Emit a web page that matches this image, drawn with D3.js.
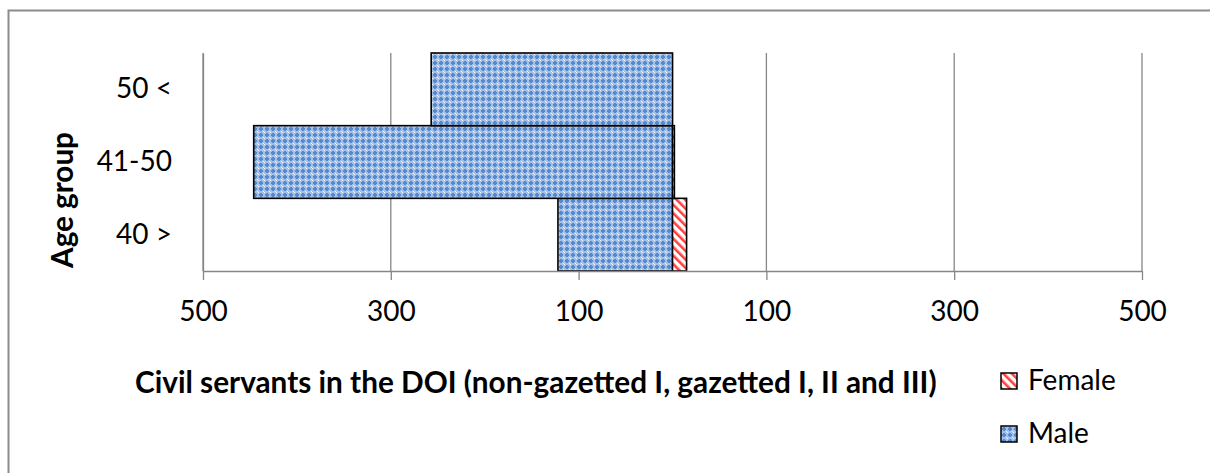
<!DOCTYPE html>
<html>
<head>
<meta charset="utf-8">
<script src="https://cdn.jsdelivr.net/npm/d3@7"></script>
<style>
  body { margin: 0; background: #fff; }
  text { font-family: Lato, "Open Sans", sans-serif; fill: #000; }
</style>
</head>
<body>
<svg id="chart" width="1210" height="473"></svg>
<script>
var ageGroups   = ['40 >', '41-50', '50 <'];
var maleCount   = [122, 446, 257];
var femaleCount = [15, 2, 0];
var tickValues  = [-500, -300, -100, 100, 300, 500];
var seriesNames = ['Female', 'Male'];
var xTitle = 'Civil servants in the DOI (non-gazetted I, gazetted I, II and III)';
var yTitle = 'Age group';

var svg = d3.select('#chart');
var gridColor = '#868686';

var x = d3.scaleLinear().domain([-500, 500]).range([203, 1142]);
var y = d3.scaleBand().domain(ageGroups.slice().reverse()).range([53, 271]).padding(0);

// patterns, roughly like the excel fills
var defs = svg.append('defs');
var pm = defs.append('pattern').attr('id', 'maleFill')
	.attr('width', 6).attr('height', 6).attr('patternUnits', 'userSpaceOnUse');
pm.append('rect').attr('width', 6).attr('height', 6).attr('fill', '#a3c0e9');
pm.append('rect').attr('x', 2).attr('y', 1).attr('width', 2).attr('height', 4).attr('fill', '#5688cc');
pm.append('rect').attr('x', 1).attr('y', 2).attr('width', 4).attr('height', 2).attr('fill', '#5688cc');
pm.append('rect').attr('x', 5).attr('y', 5).attr('width', 2).attr('height', 2).attr('fill', '#f4f8fd');
pm.append('rect').attr('x', 0).attr('y', 0).attr('width', 1).attr('height', 1).attr('fill', '#f4f8fd');

var pf = defs.append('pattern').attr('id', 'femaleFill')
	.attr('width', 6).attr('height', 6).attr('patternUnits', 'userSpaceOnUse')
	.attr('patternTransform', 'rotate(-45)');
pf.append('rect').attr('width', 6).attr('height', 6).attr('fill', '#ffffff');
pf.append('rect').attr('width', 2.6).attr('height', 6).attr('fill', '#ff4040');

// outer chart border
svg.append('rect')
	.attr('x', 8.5).attr('y', 10.5).attr('width', 1220).attr('height', 480)
	.attr('fill', 'none').attr('stroke', '#8c8c8c').attr('stroke-width', 2);

// vertical gridlines
svg.append('g').selectAll('line').data(tickValues).enter().append('line')
	.attr('x1', function(d){ return x(d); }).attr('x2', function(d){ return x(d); })
	.attr('y1', 53).attr('y2', 271)
	.attr('stroke', gridColor).attr('stroke-width', 1.3);

// zero axis
svg.append('line')
	.attr('x1', x(0)).attr('x2', x(0)).attr('y1', 53).attr('y2', 271)
	.attr('stroke', gridColor).attr('stroke-width', 1.3);

// bars
var rows = ageGroups.map(function(g, i){ return {group: g, male: maleCount[i], female: femaleCount[i]}; });

svg.append('g').selectAll('rect').data(rows).enter().append('rect')
	.attr('x', function(d){ return x(-d.male); })
	.attr('y', function(d){ return y(d.group); })
	.attr('width', function(d){ return x(0) - x(-d.male); })
	.attr('height', y.bandwidth())
	.attr('fill', 'url(#maleFill)')
	.attr('stroke', '#000').attr('stroke-width', 1.6);

svg.append('g').selectAll('rect').data(rows.filter(function(d){ return d.female > 0; })).enter().append('rect')
	.attr('x', x(0))
	.attr('y', function(d){ return y(d.group); })
	.attr('width', function(d){ return x(d.female) - x(0); })
	.attr('height', y.bandwidth())
	.attr('fill', 'url(#femaleFill)')
	.attr('stroke', '#000').attr('stroke-width', 1.6);

// x axis
var xAxis = svg.append('g').attr('transform', 'translate(0,271)')
	.call(d3.axisBottom(x).tickValues(tickValues).tickSize(9).tickSizeOuter(0).tickPadding(21)
		.tickFormat(function(d){ return Math.abs(d); }));
xAxis.select('.domain').attr('stroke', gridColor).attr('stroke-width', 1.3);
xAxis.selectAll('.tick line').attr('stroke', gridColor).attr('stroke-width', 1.3);
xAxis.selectAll('.tick text').style('font-size', '28px').style('font-family', 'Lato');

// y axis (labels only)
var yAxis = svg.append('g').attr('transform', 'translate(203,0)')
	.call(d3.axisLeft(y).tickSize(0).tickPadding(31));
yAxis.select('.domain').attr('stroke', gridColor).attr('stroke-width', 1.3);
yAxis.selectAll('.tick text').style('font-size', '28px').style('font-family', 'Lato');

// axis titles
var xt = svg.append('text').attr('x', 135).attr('y', 393)
	.style('font-weight', 'bold').style('font-size', '24px').text(xTitle);
xt.style('font-size', (24 * 802 / xt.node().getComputedTextLength()) + 'px');

var yt = svg.append('text').attr('transform', 'translate(73,200) rotate(-90)')
	.attr('text-anchor', 'middle')
	.style('font-weight', 'bold').style('font-size', '24px').text(yTitle);
yt.style('font-size', (24 * 136 / yt.node().getComputedTextLength()) + 'px');

// legend
var legend = svg.append('g').selectAll('g').data(seriesNames).enter().append('g')
	.attr('transform', function(d, i){ return 'translate(1001,' + (373 + i * 53) + ')'; });
legend.append('rect').attr('width', 16).attr('height', 16)
	.attr('fill', function(d){ return d === 'Female' ? 'url(#femaleFill)' : 'url(#maleFill)'; })
	.attr('stroke', '#000').attr('stroke-width', 1.5);
legend.append('text').attr('x', 27).attr('y', 17)
	.style('font-size', '28px').text(function(d){ return d; });
</script>
</body>
</html>
